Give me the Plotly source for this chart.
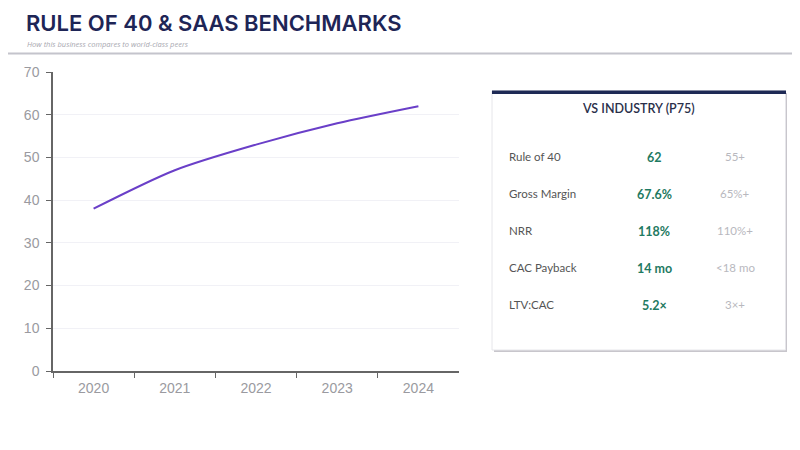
import plotly.graph_objects as go

# ---- data ----
years = ["2020", "2021", "2022", "2023", "2024"]
rule_of_40 = [38, 47, 53, 58, 62]

metric_names = ["Rule of 40", "Gross Margin", "NRR", "CAC Payback", "LTV:CAC"]
metric_values = ["62", "67.6%", "118%", "14 mo", "5.2×"]
metric_benchmarks = ["55+", "65%+", "110%+", "<18 mo", "3×+"]

W, H = 800, 450
OFF = 8  # page body margin

def px(x):
    return (x - OFF) / W

def py(y):
    return 1 - (y - OFF) / H

fig = go.Figure()
fig.add_trace(go.Scatter(
    x=years, y=rule_of_40, mode="lines",
    line=dict(color="#6a3fc8", width=2, shape="spline", smoothing=0.8),
    hoverinfo="skip", showlegend=False,
))

shapes = []
shapes.append(dict(type="rect", xref="paper", yref="paper",
                   x0=px(0), x1=px(4), y0=py(52), y1=py(0),
                   fillcolor="#1f5fa8", line_width=0, layer="above"))
shapes.append(dict(type="line", xref="paper", yref="paper",
                   x0=px(0), x1=px(800), y0=py(53.5), y1=py(53.5),
                   line=dict(color="#c4c4cc", width=2)))
shapes.append(dict(type="rect", xref="paper", yref="paper",
                   x0=px(494), x1=px(787), y0=py(352), y1=py(93),
                   fillcolor="#c8c6cc", line_width=0, layer="below"))
shapes.append(dict(type="rect", xref="paper", yref="paper",
                   x0=px(492), x1=px(785.5), y0=py(350), y1=py(91),
                   fillcolor="#ffffff", line=dict(color="#e6e6ea", width=1), layer="below"))
shapes.append(dict(type="rect", xref="paper", yref="paper",
                   x0=px(492), x1=px(786), y0=py(94), y1=py(90.5),
                   fillcolor="#1e2a55", line_width=0))

annotations = []
annotations.append(dict(text="RULE OF 40 & SAAS BENCHMARKS", xref="paper", yref="paper",
                        x=px(24), y=py(23), xanchor="left", yanchor="middle", showarrow=False,
                        font=dict(family="Inter", size=22, color="#1e2556", weight=600)))
annotations.append(dict(text="<i>How this business compares to world-class peers</i>", xref="paper", yref="paper",
                        x=px(25), y=py(43.5), xanchor="left", yanchor="middle", showarrow=False,
                        font=dict(family="Open Sans", size=7.5, color="#a8a8b0")))
annotations.append(dict(text="VS INDUSTRY (P75)", xref="paper", yref="paper",
                        x=px(638), y=py(108), xanchor="center", yanchor="middle", showarrow=False,
                        font=dict(family="Lato", size=12.5, color="#2a2f4a", weight=600)))

row_y = [156, 193, 230, 267, 304]
for name, val, bench, yy in zip(metric_names, metric_values, metric_benchmarks, row_y):
    annotations.append(dict(text=name, xref="paper", yref="paper", x=px(507), y=py(yy),
                            xanchor="left", yanchor="middle", showarrow=False,
                            font=dict(family="Lato", size=11.5, color="#555555")))
    annotations.append(dict(text="<b>" + val + "</b>", xref="paper", yref="paper", x=px(654), y=py(yy + 1.5),
                            xanchor="center", yanchor="middle", showarrow=False,
                            font=dict(family="Lato", size=12.5, color="#1f7a62")))
    annotations.append(dict(text=bench, xref="paper", yref="paper", x=px(735), y=py(yy),
                            xanchor="center", yanchor="middle", showarrow=False,
                            font=dict(family="Lato", size=11.5, color="#b8b8be")))

fig.update_layout(
    width=W, height=H,
    margin=dict(l=0, r=0, t=0, b=0, pad=0, autoexpand=False),
    paper_bgcolor="#ffffff", plot_bgcolor="#ffffff",
    shapes=shapes, annotations=annotations,
    xaxis=dict(domain=[px(53), px(459)], type="category", range=[-0.5, 4.5], automargin=False,
               tickson="boundaries", ticks="outside", ticklen=5, tickcolor="#666666",
               ticklabelstandoff=3,
               showline=True, linecolor="#666666", linewidth=1.5,
               showgrid=False, zeroline=False,
               tickfont=dict(family="Liberation Sans", size=14, color="#9a9aa0")),
    yaxis=dict(domain=[py(371), py(72)], range=[0, 70], dtick=10, automargin=False,
               ticks="outside", ticklen=5, tickcolor="#666666",
               ticklabelstandoff=4,
               showline=True, linecolor="#666666", linewidth=1.5,
               showgrid=True, gridcolor="#f1f1f6", gridwidth=1, zeroline=False,
               tickfont=dict(family="Liberation Sans", size=14, color="#9a9aa0")),
)

fig.write_html("out.html")
